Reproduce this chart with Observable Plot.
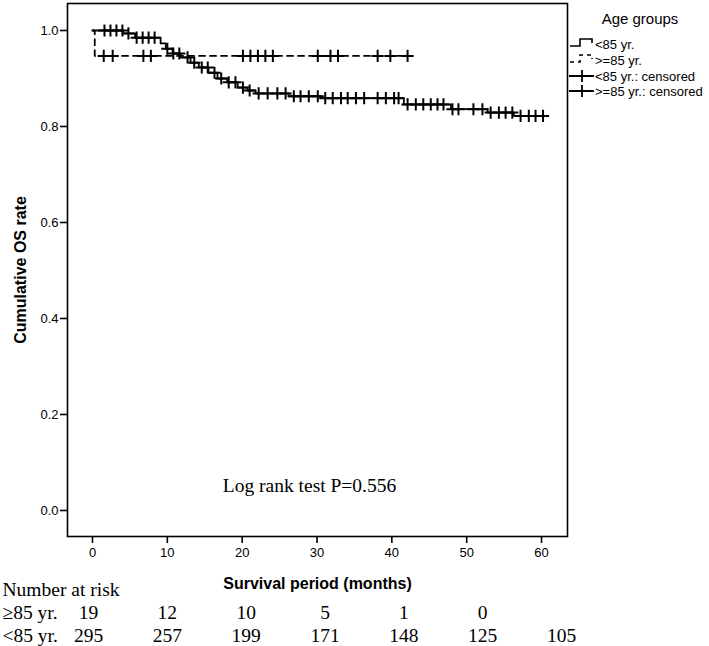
<!DOCTYPE html>
<html><head><meta charset="utf-8">
<script src="https://cdn.jsdelivr.net/npm/d3@7"></script>
<script src="https://cdn.jsdelivr.net/npm/@observablehq/plot@0.6"></script>
<style>
html,body{margin:0;padding:0;background:#fff;}
#wrap{position:relative;width:709px;height:646px;}
#wrap g[aria-label="x-axis tick"], #wrap g[aria-label="y-axis tick"]{stroke-width:1.6;}
</style></head><body><div id="wrap"></div>
<script>
// ---- data ----
const groupNames = ["<85 yr.", ">=85 yr."];
const legendLabels = ["<85 yr.", ">=85 yr.", "<85 yr.: censored", ">=85 yr.: censored"];
const legendTitle = "Age groups";

// <85 yr. step curve: time of each step (months) and survival after it
const timeLt85 = [0, 4.1, 5.7, 9.1, 9.8, 10.7, 11.8, 13.1, 14.2, 15.5, 16.7, 18.0, 19.4, 20.7, 21.8, 26.2, 30.5, 41.6, 47.9, 52.8, 56.3, 60.3];
const survLt85 = [1.0, 0.994, 0.985, 0.973, 0.962, 0.952, 0.944, 0.933, 0.923, 0.912, 0.900, 0.892, 0.881, 0.875, 0.869, 0.863, 0.859, 0.846, 0.836, 0.829, 0.822, 0.822];
// >=85 yr. step curve
const timeGe85 = [0, 0.3, 42.1];
const survGe85 = [1.0, 0.947, 0.947];

// censoring times (months)
const censorLt85 = [1.6, 2.4, 3.2, 4.0, 4.8, 5.9, 6.7, 7.5, 8.3,
  10.0, 10.8, 11.6, 12.7, 13.6, 14.6, 15.4, 16.3, 17.2, 18.2, 19.1, 20.1, 21.0,
  22.2, 23.4, 24.7, 25.8, 26.9, 27.8, 28.9, 30.1, 31.1, 32.1, 33.2, 34.1, 35.2, 36.3, 38.1, 39.2, 40.3, 40.9,
  42.1, 43.2, 44.2, 45.2, 46.1, 46.9, 48.1, 48.9, 50.9, 52.1, 53.2, 54.3, 55.2, 56.1, 57.2, 58.3, 59.2, 60.2];
const censorGe85 = [1.5, 2.7, 6.8, 7.8, 20.1, 21.1, 22.1, 23.1, 24.1, 30.1, 31.8, 32.8, 38.1, 39.8, 42.1];

const xTicks = [0, 10, 20, 30, 40, 50, 60];
const yTicks = [0, 0.2, 0.4, 0.6, 0.8, 1.0];
const xTitle = "Survival period (months)";
const yTitle = "Cumulative OS rate";
const pText = "Log rank test P=0.556";

// number at risk table
const riskTitle = "Number at risk";
const riskTimes = [0, 10, 20, 30, 40, 50, 60];
const riskRowLabels = ["≥85 yr.", "<85 yr."];
const riskGe85 = [19, 12, 10, 5, 1, 0];
const riskLt85 = [295, 257, 199, 171, 148, 125, 105];

// ---- build ----
const stepAt = (times, surv, t) => { let v = surv[0]; for (let i = 0; i < times.length; i++) if (times[i] <= t) v = surv[i]; return v; };
const lt85 = timeLt85.map((t, i) => ({t, s: survLt85[i]}));
const ge85 = timeGe85.map((t, i) => ({t, s: survGe85[i]}));
const cLt = censorLt85.map(t => ({t, s: stepAt(timeLt85, survLt85, t)}));
const cGe = censorGe85.map(t => ({t, s: stepAt(timeGe85, survGe85, t)}));

const main = Plot.plot({
  width: 709, height: 646,
  marginLeft: 67, marginRight: 142, marginTop: 3, marginBottom: 110,
  style: {fontFamily: "'Liberation Sans', Arial, sans-serif", fontSize: "13px", color: "#000", background: "white"},
  x: {domain: [-3.34, 63.47], ticks: xTicks, tickSize: 7, tickPadding: 4, label: null},
  y: {domain: [-0.0542, 1.05625], ticks: yTicks, tickFormat: d3.format(".1f"), tickSize: 7, tickPadding: 2, label: null},
  marks: [
    Plot.frame({stroke: "#000", strokeWidth: 1.6}),
    Plot.line(ge85, {x: "t", y: "s", curve: "step-after", stroke: "#000", strokeWidth: 1.8, strokeDasharray: "6,5"}),
    Plot.line(lt85, {x: "t", y: "s", curve: "step-after", stroke: "#000", strokeWidth: 1.8}),
    Plot.dot(cGe, {x: "t", y: "s", symbol: "plus", r: 4, stroke: "#000", strokeWidth: 2}),
    Plot.dot(cLt, {x: "t", y: "s", symbol: "plus", r: 4, stroke: "#000", strokeWidth: 2}),
    Plot.text([yTitle], {frameAnchor: "left", dx: -47, rotate: -90, textAnchor: "middle", lineAnchor: "middle", fontWeight: "bold", fontSize: 16}),
    Plot.text([xTitle], {frameAnchor: "bottom", dy: 47, textAnchor: "middle", lineAnchor: "middle", fontWeight: "bold", fontSize: 16}),
    Plot.text([pText], {frameAnchor: "bottom", dy: -51, dx: -8, textAnchor: "middle", lineAnchor: "middle", fontFamily: "'Liberation Serif', 'Times New Roman', serif", fontSize: 19.5})
  ]
});

// legend (outside the frame, on the right)
const svg = d3.select(main);
const lg = svg.append("g").attr("font-family", "'Liberation Sans', Arial, sans-serif").attr("fill", "#000").attr("text-anchor", "start");
lg.append("text").attr("x", 640).attr("y", 19).attr("dy", "0.35em").attr("text-anchor", "middle").attr("font-size", 15).text(legendTitle);
const rowsY = [44, 60, 76, 91];
legendLabels.forEach((lab, i) => {
  const y = rowsY[i];
  lg.append("text").attr("x", 595).attr("y", y).attr("dy", "0.35em").attr("text-anchor", "start").attr("font-size", 13).text(lab);
  if (i < 2) {
    lg.append("path").attr("d", `M570,${y + 2}H580V${y - 5}H592V${y - 1}`).attr("fill", "none").attr("stroke", "#000").attr("stroke-width", 1.6)
      .attr("stroke-dasharray", i === 1 ? "4,4" : null);
  } else {
    lg.append("path").attr("d", `M569,${y}H594M582,${y - 6}V${y + 6}`).attr("fill", "none").attr("stroke", "#000").attr("stroke-width", 1.8);
  }
});

// number-at-risk table
const riskRows = [];
riskGe85.forEach((n, i) => riskRows.push({t: riskTimes[i], row: riskRowLabels[0], n}));
riskLt85.forEach((n, i) => riskRows.push({t: riskTimes[i], row: riskRowLabels[1], n}));
const table = Plot.plot({
  width: 709, height: 71, marginTop: 0, marginBottom: 0, marginLeft: 0, marginRight: 0,
  style: {background: "transparent", fontFamily: "'Liberation Serif', 'Times New Roman', serif", fontSize: "19.5px", color: "#000", overflow: "visible"},
  x: {domain: [0, 60], range: [88, 561], axis: null},
  y: {type: "point", domain: [riskTitle, ...riskRowLabels], range: [13, 60], padding: 0, axis: null},
  marks: [
    Plot.text([riskTitle, ...riskRowLabels], {y: d => d, text: d => d, frameAnchor: "left", dx: 2, textAnchor: "start", fontSize: 19.5}),
    Plot.text(riskRows, {x: "t", y: "row", text: d => String(d.n), fontSize: 19.5})
  ]
});
table.style.position = "absolute";
table.style.left = "0px";
table.style.top = "575px";

const wrap = document.getElementById("wrap");
wrap.appendChild(main);
wrap.appendChild(table);
</script></body></html>
